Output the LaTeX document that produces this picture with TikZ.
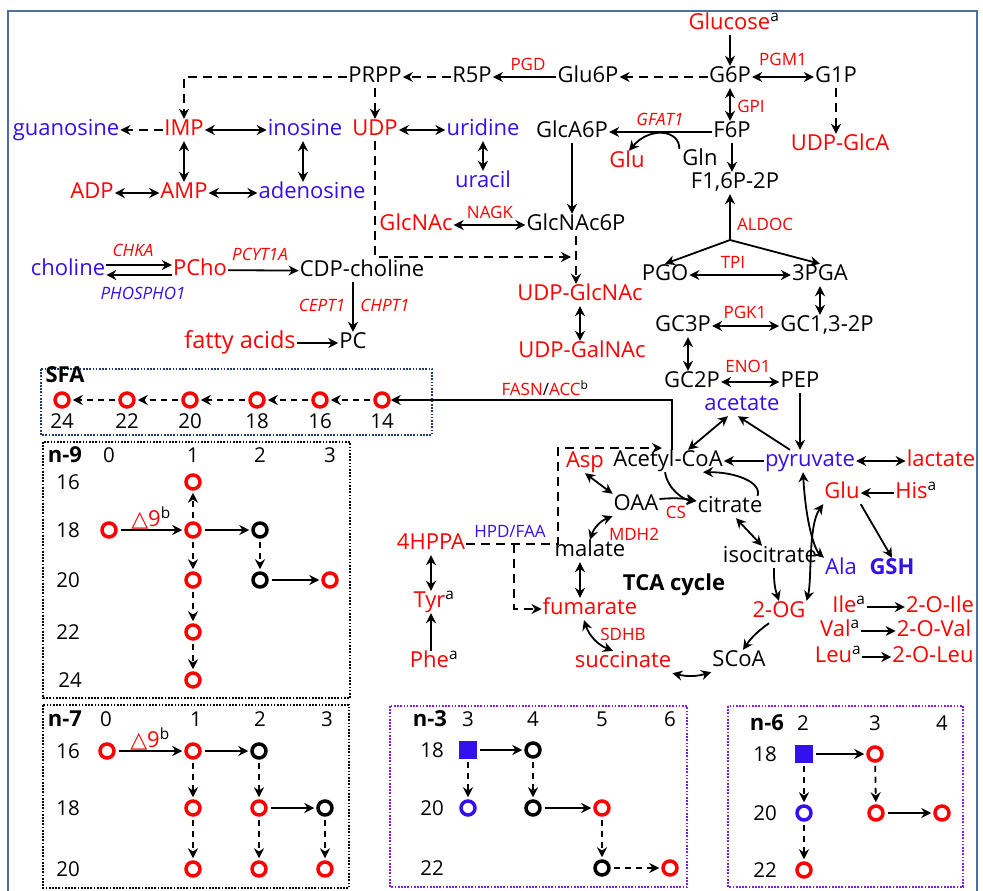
\documentclass[tikz,border=0pt]{standalone}
\usepackage{fontspec}
\setmainfont{Open Sans}
\newfontfamily\symfont{DejaVu Sans}
\usetikzlibrary{arrows.meta}
\definecolor{metRed}{HTML}{FF0000}
\definecolor{metBlue}{HTML}{3311EE}
\definecolor{frameBlue}{HTML}{4E6E9E}
\definecolor{sfaNavy}{HTML}{1F3A6E}
\definecolor{boxViolet}{HTML}{7B1FE0}

\begin{document}
\begin{tikzpicture}[x=1pt, y=-1pt, font=\fontsize{22}{25}\selectfont,
    met/.style={inner sep=1pt, text height=15.5pt, text depth=4.5pt},
    rmet/.style={met, text=metRed},
    bmet/.style={met, text=metBlue},
    enz/.style={inner sep=1pt, text=metRed, font=\fontsize{17}{19}\selectfont},
    ienz/.style={enz, font=\fontsize{17}{19}\selectfont\itshape},
    num/.style={inner sep=1pt, font=\fontsize{20.5}{23}\selectfont},
    ttl/.style={inner sep=1pt, font=\fontsize{22}{25}\selectfont\bfseries},
    fa/.style={circle, draw=metRed, line width=3.5pt, minimum size=14pt, inner sep=0pt},
    fak/.style={fa, draw=black},
    fab/.style={fa, draw=metBlue},
    fasq/.style={rectangle, fill=metBlue, minimum size=18pt, inner sep=0pt},
    arr/.style={-{Stealth[length=10pt, width=10pt]}, line width=1.8pt},
    darr/.style={{Stealth[length=10pt, width=10pt]}-{Stealth[length=10pt, width=10pt]}, line width=1.8pt},
    dasharr/.style={arr, dash pattern=on 9pt off 6pt},
    gdash/.style={arr, dash pattern=on 6pt off 5pt},
    cgap/.style={shorten <=3pt, shorten >=2pt},
    dotbox/.style={line width=1.7pt, dash pattern=on 1.7pt off 1.5pt}]
  \useasboundingbox (0,0) rectangle (983,891);
  \draw[frameBlue, line width=2.8pt] (8,900) -- (8,11) -- (977,11) -- (977,900);

  % nucleotides and sugars
  \node[rmet] (glc) at (734,24) {Glucose\textsuperscript{\color{black}a}};
  \node[met] (g6p) at (730,77) {G6P};
  \node[met] (g1p) at (836,77) {G1P};
  \node[enz] (pgm) at (783,59) {PGM1};
  \node[rmet] (udpglca) at (840,145) {UDP-GlcA};
  \node[met] (glu6p) at (588,77) {Glu6P};
  \node[enz] (pgd) at (528,64) {PGD};
  \node[met] (r5p) at (472,77) {R5P};
  \node[met] (prpp) at (375,77) {PRPP};
  \node[bmet] (guan) at (66,130) {guanosine};
  \node[rmet] (imp) at (184,130) {IMP};
  \node[bmet] (ino) at (305,130) {inosine};
  \node[rmet] (udp) at (375,130) {UDP};
  \node[bmet] (uri) at (483,130) {uridine};
  \node[bmet] (urac) at (483,182) {uracil};
  \node[met] (glca6p) at (572,132) {GlcA6P};
  \node[ienz] (gfat) at (660,119) {GFAT1};
  \node[met] (f6p) at (732,132) {F6P};
  \node[rmet] (glua) at (627,162) {Glu};
  \node[met] (gln) at (700,160) {Gln};
  \node[met] (f16p) at (735,183) {F1,6P-2P};
  \node[enz] (gpi) at (751,106) {GPI};
  \node[rmet] (adp) at (92,193) {ADP};
  \node[rmet] (amp) at (184,193) {AMP};
  \node[bmet] (aden) at (312,193) {adenosine};
  \node[rmet] (glcnac) at (416,225) {GlcNAc};
  \node[enz] (nagk) at (490,212) {NAGK};
  \node[met] (glcnac6p) at (576,225) {GlcNAc6P};
  \node[rmet] (udpglcnac) at (580,295) {UDP-GlcNAc};
  \node[rmet] (udpgalnac) at (582,352) {UDP-GalNAc};
  \coordinate (udpend) at (571,257);

  \draw[arr] (glc.south -| g6p) -- (g6p);
  \draw[darr] (g6p) -- (g1p);
  \draw[dasharr] (g6p) -- (glu6p);
  \draw[arr] (glu6p) -- (r5p);
  \draw[dasharr] (r5p) -- (prpp);
  \draw[dasharr] (prpp.west) -| (imp.north);
  \draw[dasharr] (prpp) -- (udp);
  \draw[dasharr] (imp) -- (guan);
  \draw[darr] (imp) -- (ino);
  \draw[darr] (imp) -- (amp);
  \draw[darr] ([xshift=-2pt]ino.south) -- ([xshift=-2pt]ino.south |- aden.north);
  \draw[darr] (adp) -- (amp);
  \draw[darr] (amp) -- (aden);
  \draw[darr] (udp) -- (uri);
  \draw[darr] (uri) -- (urac);
  \draw[arr] (f6p) -- (glca6p);
  \draw[arr] ([xshift=-2pt]gln.north west) .. controls (680,130) and (650,126) .. ([xshift=2pt]glua.north);
  \draw[darr] (g6p) -- (g6p |- f6p.north);
  \draw[arr] (f6p) -- (f6p |- f16p.north);
  \draw[dasharr] (g1p) -- (g1p |- udpglca.north);
  \draw[arr] (glca6p) -- (glca6p |- glcnac6p.north);
  \draw[darr] (glcnac) -- (glcnac6p);
  \draw[dasharr] (udp) |- (udpend);
  \draw[dasharr] (glcnac6p) -- (glcnac6p |- udpglcnac.north);
  \draw[darr] (udpglcnac) -- (udpglcnac |- udpgalnac.north);

  % glycolysis
  \coordinate (aldj) at (730,240);
  \node[enz] (aldoc) at (765,224) {ALDOC};
  \node[met] (pgo) at (665,275) {PGO};
  \node[enz] (tpi) at (733,262) {TPI};
  \node[met] (pga) at (820,275) {3PGA};
  \node[met] (gc3p) at (683,326) {GC3P};
  \node[enz] (pgk) at (745,312) {PGK1};
  \node[met] (gc13) at (827,326) {GC1,3-2P};
  \node[met] (gc2p) at (692,382) {GC2P};
  \node[enz] (eno) at (748,366) {ENO1};
  \node[met] (pep) at (800,382) {PEP};
  \node[bmet] (acet) at (742,405) {acetate};
  \draw[arr] (aldj) -- (aldj |- f16p.south);
  \draw[arr] (aldj) -- (pgo.north);
  \draw[arr] (aldj) -- (pga.north);
  \draw[darr] (pgo) -- (pga);
  \draw[darr] (pga) -- (pga |- gc13.north);
  \draw[darr] (gc3p) -- (gc13);
  \draw[darr] ([xshift=5pt]gc3p.south) -- ([xshift=5pt]gc3p.south |- gc2p.north);
  \draw[darr] (gc2p) -- (pep);

  % choline
  \node[bmet] (chol) at (68,270) {choline};
  \node[rmet] (pcho) at (200,270) {PCho};
  \node[ienz] (chka) at (133,250) {CHKA};
  \node[ienz, text=metBlue] (phos) at (143,293) {PHOSPHO1};
  \node[ienz] (pcyt) at (260,254) {PCYT1A};
  \node[met] (cdpch) at (362,271) {CDP-choline};
  \node[ienz] (cept) at (322,305) {CEPT1};
  \node[ienz] (chpt) at (385,305) {CHPT1};
  \node[met] (pc) at (353,343) {PC};
  \node[rmet, font=\fontsize{23.5}{27}\selectfont] (fatty) at (240,343) {fatty acids};
  \draw[arr] ([yshift=5pt]chol.east) -- ([yshift=5pt]pcho.west);
  \draw[arr] ([yshift=-5pt]pcho.west) -- ([yshift=-5pt]chol.east);
  \draw[arr] (pcho) -- (cdpch);
  \draw[arr] (cdpch.south -| pc) -- (pc);
  \draw[arr] (fatty) -- (pc);

  % saturated fatty acids
  \draw[sfaNavy, dotbox] (41,369) rectangle (432,435);
  \node[ttl] (sfa) at (65,375) {SFA};
  \node[fa] (s24) at (62,400) {};
  \node[fa] (s22) at (127,400) {};
  \node[fa] (s20) at (190,400) {};
  \node[fa] (s18) at (257,400) {};
  \node[fa] (s16) at (320,400) {};
  \node[fa] (s14) at (382,400) {};
  \node[num] (l24) at (62,421) {24};
  \node[num] (l22) at (127,421) {22};
  \node[num] (l20) at (190,421) {20};
  \node[num] (l18) at (257,421) {18};
  \node[num] (l16) at (320,421) {16};
  \node[num] (l14) at (382,421) {14};
  \draw[gdash, cgap] (s14) -- (s16);
  \draw[gdash, cgap] (s16) -- (s18);
  \draw[gdash, cgap] (s18) -- (s20);
  \draw[gdash, cgap] (s20) -- (s22);
  \draw[gdash, cgap] (s22) -- (s24);

  % TCA cycle and amino acids
  \node[met] (acoa) at (668,461) {Acetyl-CoA};
  \node[rmet] (asp) at (585,462) {Asp};
  \node[bmet] (pyr) at (810,461) {pyruvate};
  \node[rmet] (lac) at (941,461) {lactate};
  \node[rmet] (glub) at (842,493) {Glu};
  \node[rmet] (his) at (916,493) {His\textsuperscript{\color{black}a}};
  \node[met] (oaa) at (636,505) {OAA};
  \node[enz] (cs) at (676,512) {CS};
  \node[met] (citrate) at (730,507) {citrate};
  \node[enz, text=metBlue] (hpd) at (510,531) {HPD/FAA};
  \node[rmet] (hppa) at (431,544) {4HPPA};
  \node[enz] (mdh) at (634,534) {MDH2};
  \node[met] (malate) at (590,551) {malate};
  \node[met] (isocit) at (770,557) {isocitrate};
  \node[bmet] (ala) at (841,569) {Ala};
  \node[bmet, font=\fontsize{22}{25}\selectfont\bfseries] (gsh) at (892,569) {GSH};
  \node[ttl] (tca) at (674,585) {TCA cycle};
  \node[rmet] (tyr) at (434,602) {Tyr\textsuperscript{\color{black}a}};
  \node[rmet] (fum) at (590,609) {fumarate};
  \node[rmet] (og) at (779,612) {2-OG};
  \node[rmet] (ile) at (849,607) {Ile\textsuperscript{\color{black}a}};
  \node[rmet] (oile) at (940,607) {2-O-Ile};
  \node[rmet] (val) at (840,631) {Val\textsuperscript{\color{black}a}};
  \node[rmet] (oval) at (934,631) {2-O-Val};
  \node[rmet] (leu) at (838,657) {Leu\textsuperscript{\color{black}a}};
  \node[rmet] (oleu) at (933,657) {2-O-Leu};
  \node[enz] (sdhb) at (623,634) {SDHB};
  \node[rmet] (phe) at (434,662) {Phe\textsuperscript{\color{black}a}};
  \node[rmet] (succ) at (623,662) {succinate};
  \node[met] (scoa) at (739,661) {SCoA};
  \node[enz] (fasn) at (545,388) {FASN{\color{black}/}ACC\textsuperscript{\color{black}b}};
  \coordinate (hpdc) at (558,448);
  \coordinate (hpdend) at (662,448);
  \coordinate (hpdb) at (514,544);

  \draw[arr] (pep) -- (pep |- pyr.north);
  \draw[arr] ([xshift=4pt]acoa.north) |- (s14);
  \draw[arr] ([xshift=-20pt]pyr.north) -- ([xshift=-4pt]acet.south);
  \draw[darr] ([xshift=-14pt]acet.south) -- ([xshift=20pt]acoa.north);
  \draw[arr] (pyr) -- (acoa);
  \draw[darr] (pyr) -- (lac);
  \draw[arr] (his) -- (glub);
  \draw[arr] (glub.south east) -- (gsh.north);
  \draw[darr] (glub.south west) .. controls (808,525) and (812,580) .. (og.north east);
  \draw[darr] ([xshift=-7pt]pyr.south) .. controls (806,525) and (815,550) .. (ala.north west);
  \draw[darr] (asp.south) -- (oaa.north west);
  \draw[arr] ([xshift=-3pt]acoa.south) .. controls (668,490) and (684,500) .. ([yshift=6pt]citrate.west);
  \draw[arr] ([yshift=6pt]oaa.east) to[bend left=8] ([yshift=6pt]citrate.west);
  \draw[arr] ([xshift=-6pt]citrate.north east) .. controls (762,482) and (735,472) .. ([xshift=35pt]acoa.south);
  \draw[darr] ([xshift=6pt]citrate.south) -- ([xshift=-8pt]isocit.north);
  \draw[arr] ([xshift=4pt]isocit.south) to[bend right=10] (og.north);
  \draw[arr] ([xshift=-10pt]og.south) to[bend right=10] ([xshift=4pt]scoa.north);
  \draw[darr] (scoa.south west) to[bend left=15] (succ.south east);
  \draw[darr] ([xshift=-10pt]succ.north) to[bend left=25] ([xshift=-6pt]fum.south);
  \draw[darr] ([xshift=-10pt]malate.south) -- ([xshift=-10pt]fum.north);
  \draw[darr] (malate.north) to[bend left=25] (oaa.south west);
  \draw[darr] (hppa) -- (hppa |- tyr.north);
  \draw[arr] ([xshift=-3pt]phe.north) -- ([xshift=-3pt]phe.north |- tyr.south);
  \draw[dasharr] (hppa.east) -| (hpdc) -- (hpdend);
  \draw[dasharr] (hpdb) |- (fum.west);
  \draw[arr] (ile) -- (oile);
  \draw[arr] (val) -- (oval);
  \draw[arr] (leu) -- (oleu);

  % n-9 series
  \draw[dotbox] (43,442) rectangle (350,698);
  \node[ttl] (n9) at (65,455) {n-9};
  \node[num] (n9h0) at (109,455) {0};
  \node[num] (n9h1) at (193,455) {1};
  \node[num] (n9h2) at (260,455) {2};
  \node[num] (n9h3) at (330,455) {3};
  \node[num] (n9r16) at (68,482) {16};
  \node[num] (n9r18) at (68,530) {18};
  \node[num] (n9r20) at (68,580) {20};
  \node[num] (n9r22) at (68,632) {22};
  \node[num] (n9r24) at (70,680) {24};
  \node[fa] (n9a18) at (109,530) {};
  \node[fa] (n9b16) at (193,482) {};
  \node[fa] (n9b18) at (193,530) {};
  \node[fa] (n9b20) at (193,580) {};
  \node[fa] (n9b22) at (193,632) {};
  \node[fa] (n9b24) at (193,680) {};
  \node[fak] (n9c18) at (260,530) {};
  \node[fak] (n9c20) at (260,580) {};
  \node[fa] (n9d20) at (330,580) {};
  \draw[arr, cgap] (n9a18) -- node[above, inner sep=0pt, text=metRed] (n9del) {{\symfont △}9\textsuperscript{\color{black}b}} (n9b18);
  \draw[gdash, cgap] (n9b18) -- (n9b16);
  \draw[arr, cgap] (n9b18) -- (n9c18);
  \draw[gdash, cgap] (n9b18) -- (n9b20);
  \draw[gdash, cgap] (n9b20) -- (n9b22);
  \draw[gdash, cgap] (n9b22) -- (n9b24);
  \draw[gdash, cgap] (n9c18) -- (n9c20);
  \draw[arr, cgap] (n9c20) -- (n9d20);

  % n-7 series
  \draw[dotbox] (43,705) rectangle (349,888);
  \node[ttl] (n7) at (65,719) {n-7};
  \node[num] (n7h0) at (106,719) {0};
  \node[num] (n7h1) at (196,719) {1};
  \node[num] (n7h2) at (260,719) {2};
  \node[num] (n7h3) at (327,719) {3};
  \node[num] (n7r16) at (68,751) {16};
  \node[num] (n7r18) at (68,808) {18};
  \node[num] (n7r20) at (68,869) {20};
  \node[fa] (n7a16) at (107,751) {};
  \node[fa] (n7b16) at (193,751) {};
  \node[fak] (n7c16) at (259,751) {};
  \node[fa] (n7b18) at (193,808) {};
  \node[fa] (n7c18) at (259,808) {};
  \node[fak] (n7d18) at (325,808) {};
  \node[fa] (n7b20) at (193,869) {};
  \node[fa] (n7c20) at (259,869) {};
  \node[fa] (n7d20) at (325,869) {};
  \draw[arr, cgap] (n7a16) -- node[above, inner sep=0pt, text=metRed] (n7del) {{\symfont △}9\textsuperscript{\color{black}b}} (n7b16);
  \draw[arr, cgap] (n7b16) -- (n7c16);
  \draw[gdash, cgap] (n7b16) -- (n7b18);
  \draw[gdash, cgap] (n7c16) -- (n7c18);
  \draw[arr, cgap] (n7c18) -- (n7d18);
  \draw[gdash, cgap] (n7b18) -- (n7b20);
  \draw[gdash, cgap] (n7c18) -- (n7c20);
  \draw[gdash, cgap] (n7d18) -- (n7d20);

  % n-3 series
  \draw[boxViolet, dotbox] (390,706) rectangle (687,887);
  \node[ttl] (n3) at (430,719) {n-3};
  \node[num] (n3h3) at (468,719) {3};
  \node[num] (n3h4) at (533,719) {4};
  \node[num] (n3h5) at (602,719) {5};
  \node[num] (n3h6) at (670,719) {6};
  \node[num] (n3r18) at (432,750) {18};
  \node[num] (n3r20) at (432,808) {20};
  \node[num] (n3r22) at (432,868) {22};
  \node[fasq] (n3a18) at (468,750) {};
  \node[fak] (n3b18) at (533,750) {};
  \node[fab] (n3a20) at (468,808) {};
  \node[fak] (n3b20) at (533,808) {};
  \node[fa] (n3c20) at (602,808) {};
  \node[fak] (n3c22) at (602,868) {};
  \node[fa] (n3d22) at (670,868) {};
  \draw[arr, cgap] (n3a18) -- (n3b18);
  \draw[gdash, cgap] (n3a18) -- (n3a20);
  \draw[gdash, cgap] (n3b18) -- (n3b20);
  \draw[arr, cgap] (n3b20) -- (n3c20);
  \draw[gdash, cgap] (n3c20) -- (n3c22);
  \draw[gdash, cgap] (n3c22) -- (n3d22);

  % n-6 series
  \draw[boxViolet, dotbox] (728,706) rectangle (963,887);
  \node[ttl] (n6) at (767,723) {n-6};
  \node[num] (n6h2) at (803,723) {2};
  \node[num] (n6h3) at (875,723) {3};
  \node[num] (n6h4) at (942,723) {4};
  \node[num] (n6r18) at (765,754) {18};
  \node[num] (n6r20) at (765,813) {20};
  \node[num] (n6r22) at (765,870) {22};
  \node[fasq] (n6a18) at (804,754) {};
  \node[fa] (n6b18) at (875,754) {};
  \node[fab] (n6a20) at (804,813) {};
  \node[fa] (n6b20) at (876,813) {};
  \node[fa] (n6c20) at (942,813) {};
  \node[fa] (n6a22) at (804,870) {};
  \draw[arr, cgap] (n6a18) -- (n6b18);
  \draw[gdash, cgap] (n6a18) -- (n6a20);
  \draw[gdash, cgap] (n6b18) -- (n6b20);
  \draw[arr, cgap] (n6b20) -- (n6c20);
  \draw[gdash, cgap] (n6a20) -- (n6a22);
\end{tikzpicture}
\end{document}
